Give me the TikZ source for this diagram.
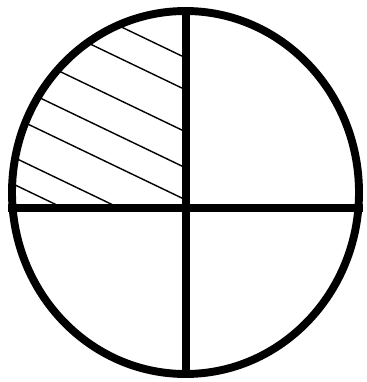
\documentclass[tikz,border=0pt]{standalone}
\usepackage{tikz}

\tikzset{
    rim/.style={line width=4.5pt},
    cross/.style={line width=4pt},
    hatchline/.style={line width=0.8pt}
}

\begin{document}
\begin{tikzpicture}[x=0.02cm, y=-0.02cm]
    \useasboundingbox (0,0) rectangle (366,382);
    \coordinate (c) at (185.5,192.5);
    % hatching of the upper left quarter
    \begin{scope}
        \clip (186,208) rectangle (0,0);
        \clip (c) ellipse [x radius=173.5, y radius=181.5];
        \foreach \h in {58,90,132,168,200,240,267} {
            \draw[hatchline] (186,\h) -- (0,\h-0.48*186);
        }
    \end{scope}
    % outline and the two dividing lines
    \draw[rim] (c) ellipse [x radius=173.5, y radius=181.5];
    \draw[cross] (186,7) -- (186,378);
    \draw[cross] (8,208) -- (363,208);
\end{tikzpicture}
\end{document}
